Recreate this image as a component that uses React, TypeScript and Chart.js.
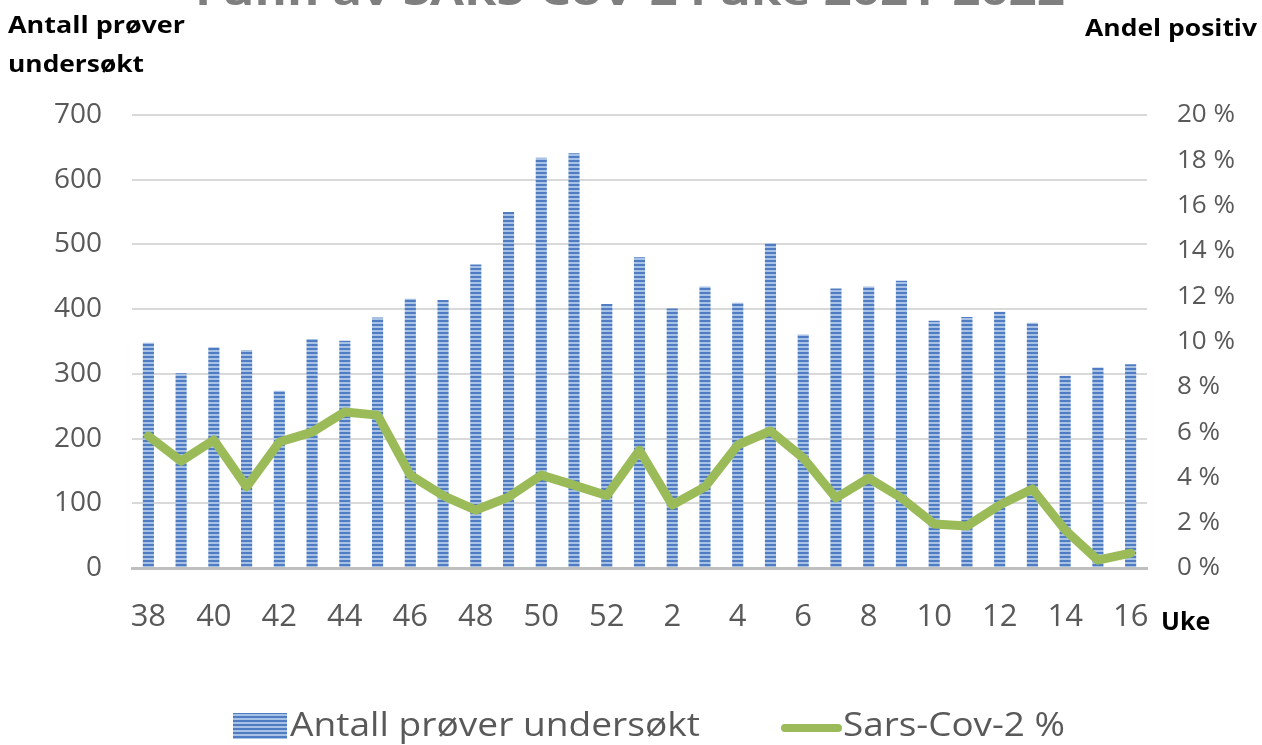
import React, { useEffect, useRef } from "react";
import { Chart, registerables } from "chart.js";

Chart.register(...registerables);

const weeks: string[] = [
  "38", "39", "40", "41", "42", "43", "44", "45", "46", "47", "48", "49", "50", "51", "52",
  "1", "2", "3", "4", "5", "6", "7", "8", "9", "10", "11", "12", "13", "14", "15", "16",
];
const antallProver: number[] = [
  348, 301, 341, 337, 274, 354, 351, 387, 416, 414, 469, 550, 634, 641, 408,
  480, 401, 435, 410, 502, 361, 432, 435, 444, 382, 388, 396, 379, 297, 310, 315,
];
const sarsCov2Pct: number[] = [
  5.83, 4.72, 5.65, 3.58, 5.56, 6.0, 6.89, 6.75, 4.1, 3.2, 2.56, 3.13, 4.1, 3.66, 3.2,
  5.2, 2.78, 3.58, 5.43, 6.05, 4.86, 3.09, 3.97, 3.09, 1.94, 1.85, 2.78, 3.49, 1.68, 0.35, 0.66,
];
const leftTicks: number[] = [0, 100, 200, 300, 400, 500, 600, 700];
const rightTicks: number[] = [0, 2, 4, 6, 8, 10, 12, 14, 16, 18, 20];

const FONT = "'Open Sans', 'Noto Sans', sans-serif";
const GREY = "#595959";
const GREEN = "#9BBB59";

function makeStripePattern(): CanvasPattern | string {
  const c = document.createElement("canvas");
  c.width = 4;
  c.height = 4;
  const g = c.getContext("2d");
  if (!g) return "#5B87C8";
  g.fillStyle = "#A8C2E6";
  g.fillRect(0, 0, 4, 4);
  g.fillStyle = "#4F7CC2";
  g.fillRect(0, 0, 4, 2);
  const p = g.createPattern(c, "repeat");
  return p || "#5B87C8";
}

function fitText(
  ctx: CanvasRenderingContext2D,
  text: string,
  x: number,
  y: number,
  width: number,
  align: "left" | "right"
) {
  const w = ctx.measureText(text).width;
  const sx = width / w;
  ctx.save();
  const left = align === "left" ? x : x - width;
  ctx.translate(left, y);
  ctx.scale(sx, 1);
  ctx.textAlign = "left";
  ctx.fillText(text, 0, 0);
  ctx.restore();
}

export default function App() {
  const ref = useRef<HTMLCanvasElement | null>(null);

  useEffect(() => {
    document.body.style.margin = "0";
    const canvas = ref.current;
    if (!canvas) return;
    const stripe = makeStripePattern();

    const overlay = {
      id: "overlay",
      afterDraw(chart: any) {
        const ctx = chart.ctx as CanvasRenderingContext2D;
        ctx.save();
        // cut-off title
        ctx.fillStyle = "#7F7F7F";
        ctx.font = `bold 40px ${FONT}`;
        ctx.textBaseline = "alphabetic";
        fitText(ctx, "Funn av SARS-CoV-2 i uke 2021-2022", 195, 5, 870, "left");
        // axis titles
        ctx.fillStyle = "#000000";
        ctx.font = `bold 24px ${FONT}`;
        fitText(ctx, "Antall prøver", 8, 33, 177, "left");
        fitText(ctx, "undersøkt", 8, 72, 136, "left");
        fitText(ctx, "Andel positiv", 1257, 36, 172, "right");
        ctx.font = `bold 25px ${FONT}`;
        ctx.textAlign = "left";
        ctx.fillText("Uke", 1161, 630);
        // legend
        ctx.fillStyle = stripe as any;
        ctx.fillRect(233, 713, 54, 26);
        ctx.fillStyle = GREY;
        ctx.font = `32px ${FONT}`;
        ctx.textBaseline = "alphabetic";
        fitText(ctx, "Antall prøver undersøkt", 290, 736, 410, "left");
        ctx.strokeStyle = GREEN;
        ctx.lineWidth = 8;
        ctx.lineCap = "round";
        ctx.beginPath();
        ctx.moveTo(785, 728);
        ctx.lineTo(838, 728);
        ctx.stroke();
        fitText(ctx, "Sars-Cov-2 %", 843, 736, 222, "left");
        ctx.restore();
      },
    };

    const chart = new Chart(canvas, {
      type: "bar",
      data: {
        labels: weeks,
        datasets: [
          {
            type: "line",
            label: "Sars-Cov-2 %",
            data: sarsCov2Pct,
            yAxisID: "y1",
            borderColor: GREEN,
            backgroundColor: GREEN,
            borderWidth: 9,
            pointRadius: 0,
            tension: 0,
            borderJoinStyle: "round",
            borderCapStyle: "round",
            order: 0,
          } as any,
          {
            type: "bar",
            label: "Antall prøver undersøkt",
            data: antallProver,
            yAxisID: "y",
            backgroundColor: stripe as any,
            borderWidth: 0,
            barPercentage: 0.34,
            categoryPercentage: 1,
            order: 1,
          },
        ],
      },
      options: {
        responsive: false,
        animation: false,
        layout: { padding: { left: 0, right: 0, top: 115, bottom: 107 } },
        plugins: {
          legend: { display: false },
          title: { display: false },
          tooltip: { enabled: false },
        },
        scales: {
          x: {
            afterFit: (s: any) => { s.height = 70; },
            grid: { display: false, drawTicks: false },
            border: { display: true, color: "#BFBFBF", width: 3 },
            ticks: {
              autoSkip: false,
              maxRotation: 0,
              padding: 31,
              color: GREY,
              font: { family: FONT, size: 31 },
              callback: (_v: any, i: number) => (i % 2 === 0 ? weeks[i] : ""),
            },
          },
          y: {
            position: "left",
            min: 0,
            max: 700,
            afterFit: (s: any) => { s.width = 132; },
            afterBuildTicks: (s: any) => { s.ticks = leftTicks.map((v) => ({ value: v })); },
            grid: { color: "#D9D9D9", lineWidth: 2, drawTicks: false },
            border: { display: false },
            ticks: {
              padding: 30,
              color: GREY,
              font: { family: FONT, size: 28 },
            },
          },
          y1: {
            position: "right",
            min: 0,
            max: 20,
            afterFit: (s: any) => { s.width = 115; },
            afterBuildTicks: (s: any) => { s.ticks = rightTicks.map((v) => ({ value: v })); },
            grid: { display: false, drawTicks: false },
            border: { display: false },
            ticks: {
              padding: 30,
              color: GREY,
              font: { family: FONT, size: 26 },
              callback: (v: any) => `${v} %`,
            },
          },
        },
      },
      plugins: [overlay],
    } as any);

    return () => chart.destroy();
  }, []);

  return (
    <div style={{ width: 1262, height: 745, position: "relative" }}>
      <canvas ref={ref} width={1262} height={745} style={{ display: "block" }} />
    </div>
  );
}
